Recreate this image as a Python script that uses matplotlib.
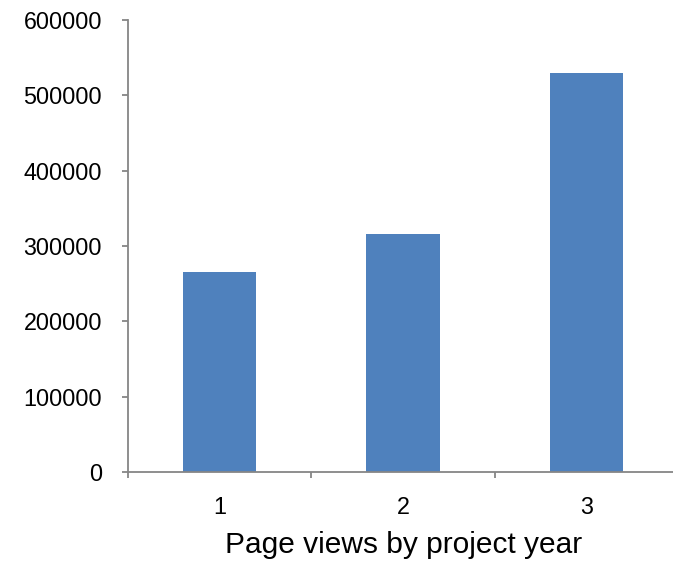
import matplotlib
matplotlib.use("Agg")
import matplotlib.pyplot as plt
from matplotlib.ticker import FixedLocator, MultipleLocator

# page views per project year
years = [1, 2, 3]
views = [265000, 316000, 530000]
year_labels = ["1", "2", "3"]

plt.rcParams["font.family"] = ["Liberation Sans", "DejaVu Sans"]

fig = plt.figure(figsize=(6.73, 5.65), dpi=100)
ax = fig.add_axes([0.190, 0.1646, 0.818, 0.800])

ax.bar(years, views, width=0.4, color="#4F81BD", zorder=2)

axis_grey = "#868686"
ax.set_xlim(0.5, 3.5)
ax.set_ylim(0, 600000)
ax.yaxis.set_major_locator(MultipleLocator(100000))

ax.set_xticks(years)
ax.set_xticklabels(year_labels)
ax.xaxis.set_minor_locator(FixedLocator([0.5, 1.5, 2.5, 3.5]))

for side in ("top", "right"):
    ax.spines[side].set_visible(False)
for side in ("left", "bottom"):
    ax.spines[side].set_color(axis_grey)
    ax.spines[side].set_linewidth(1.3)

ax.tick_params(axis="y", which="major", direction="out", length=4.3, width=1.3,
               color=axis_grey, pad=14.4, labelsize=16.8)
ax.tick_params(axis="x", which="major", length=0, pad=17.5, labelsize=16.8)
ax.tick_params(axis="x", which="minor", direction="out", length=4.3, width=1.3,
               color=axis_grey)

ax.set_xlabel("Page views by project year", fontsize=21.5, labelpad=8.5)

fig.savefig("out.png", dpi=100)
